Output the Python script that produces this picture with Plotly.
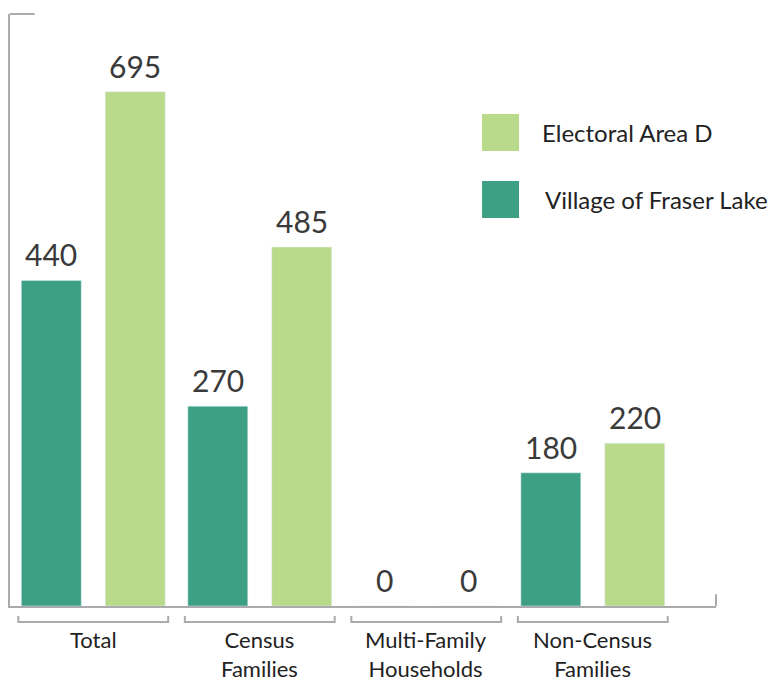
import plotly.graph_objects as go

categories = ['Total', 'Census<br>Families', 'Multi-Family<br>Households', 'Non-Census<br>Families']
series_names = ['Village of Fraser Lake', 'Electoral Area D']
village = [440, 270, 0, 180]
electoral = [695, 485, 0, 220]
colors = ['#3DA085', '#B9DA8A']

FONT = 'Lato, Open Sans, sans-serif'
AXIS = '#ABABAD'

xs = list(range(len(categories)))
bar_w = 0.36
offsets = [-0.432, 0.072]

fig = go.Figure()
annotations = []
for vals, name, color, off in zip([village, electoral], series_names, colors, offsets):
  fig.add_trace(go.Bar(
    x=xs, y=vals, name=name, marker_color=color, width=bar_w, offset=off,
    showlegend=False))
  # value labels a bit above each bar
  for x, v in zip(xs, vals):
    annotations.append(dict(x=x + off + bar_w / 2, y=v, xref='x', yref='y', text=str(v),
                            showarrow=False, xanchor='center', yanchor='bottom', yshift=6,
                            font=dict(size=30, color='#3A3A3A', family=FONT)))

shapes = []
# top tick on the value axis and right tick on the category axis
shapes.append(dict(type='line', xref='paper', yref='paper', x0=0, x1=0.035, y0=1, y1=1,
                   line=dict(color=AXIS, width=2)))
shapes.append(dict(type='line', xref='paper', yref='paper', x0=1, x1=1, y0=0, y1=0.02,
                   line=dict(color=AXIS, width=2)))

for x, cat in zip(xs, categories):
  # bracket under each group
  x0, x1 = x - 0.45, x + 0.45
  shapes.append(dict(type='path', xref='x', yref='paper',
                     path=f'M {x0},-0.017 L {x0},-0.027 L {x1},-0.027 L {x1},-0.017',
                     line=dict(color=AXIS, width=2)))
  annotations.append(dict(x=x, y=-0.031, xref='x', yref='paper', text=cat,
                          showarrow=False, xanchor='center', yanchor='top',
                          font=dict(size=22, color='#222222', family=FONT)))

# hand-drawn legend, Electoral Area D on top
for i, (name, color) in enumerate([(series_names[1], colors[1]), (series_names[0], colors[0])]):
  top = 0.831 - i * 0.1131
  shapes.append(dict(type='rect', xref='paper', yref='paper', x0=0.6686, x1=0.721,
                     y0=top - 0.0625, y1=top, fillcolor=color, line=dict(width=0)))
  annotations.append(dict(x=0.751 + i * 0.004, y=top - 0.031, xref='paper', yref='paper',
                          text=name, showarrow=False, xanchor='left', yanchor='middle',
                          font=dict(size=24, color='#222222', family=FONT)))

fig.update_layout(
  width=780, height=682,
  margin=dict(l=10, r=64, t=14, b=76),
  plot_bgcolor='white', paper_bgcolor='white',
  font=dict(family=FONT),
  shapes=shapes, annotations=annotations,
  xaxis=dict(range=[-0.5, 3.74], showgrid=False, zeroline=False, showticklabels=False,
             showline=True, linecolor=AXIS, linewidth=2, ticks=''),
  yaxis=dict(range=[0, 800], showgrid=False, zeroline=False, showticklabels=False,
             showline=True, linecolor=AXIS, linewidth=2, ticks=''),
)

fig.write_html('out.html', config={'displayModeBar': False},
               post_script="document.body.style.margin='0';")
